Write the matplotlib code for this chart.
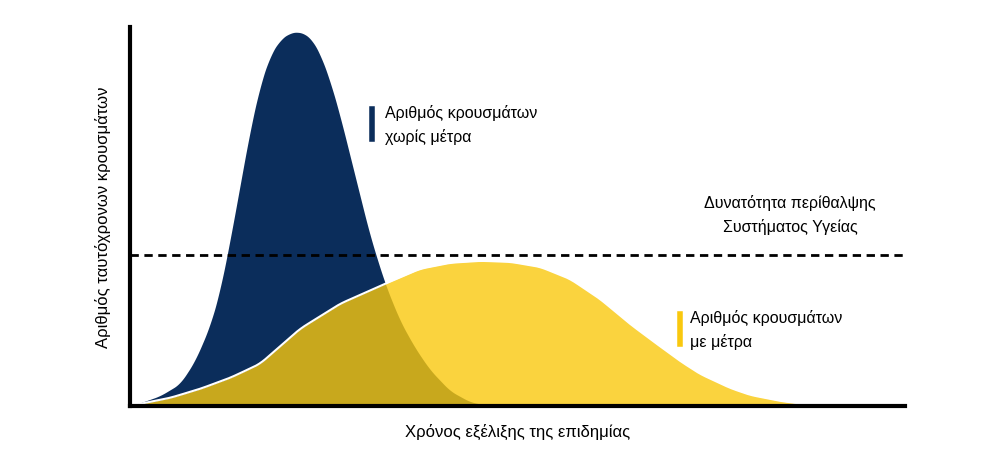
import numpy as np
import matplotlib
matplotlib.use("Agg")
import matplotlib.pyplot as plt

plt.rcParams['font.family'] = ['Liberation Sans', 'DejaVu Sans']

# curve without measures (navy)
nav_x = [0, 10, 30, 50, 65, 80, 90, 100, 110, 120, 130, 140, 150, 160, 168, 175, 182, 190, 200, 210, 225, 240, 255, 270, 285, 300, 320, 340, 360]
nav_y = [0, 3, 10, 22, 45, 80, 115, 165, 220, 275, 320, 350, 366, 373, 374, 372, 366, 352, 325, 290, 230, 170, 122, 85, 58, 36, 15, 4, 0]
# curve with measures (yellow)
yel_x = [0, 10, 40, 70, 100, 130, 170, 210, 255, 290, 320, 350, 380, 410, 440, 470, 500, 520, 550, 570, 600, 620, 650, 680, 700]
yel_y = [0, 2, 8, 17, 28, 42, 77, 102, 122, 137, 143, 145, 144, 139, 127, 107, 82, 67, 45, 32, 18, 11, 5, 1, 0]
capacity = 151

fig = plt.figure(figsize=(10, 4.77), dpi=100)
ax = fig.add_axes([0.13, 0.147, 0.775, 0.795])
xs = np.linspace(0, 775, 1500)
ny = np.interp(xs, nav_x, nav_y, right=0)
yy = np.interp(xs, yel_x, yel_y, right=0)
k = np.ones(25) / 25
ny = np.convolve(ny, k, mode='same')
yy = np.convolve(yy, k, mode='same')
ax.fill_between(xs, 0, ny, color='#0b2d5b', lw=0)
ax.fill_between(xs, 0, yy, color='#f9c80e', alpha=0.8, lw=0)
ax.plot(xs, yy, color='white', lw=1.5)
ax.axhline(capacity, color='black', ls=(0, (3, 2)), lw=2)
ax.set_xlim(0, 775)
ax.set_ylim(0, 379)
ax.set_xticks([]); ax.set_yticks([])
for s in ['top', 'right']:
    ax.spines[s].set_visible(False)
for s in ['left', 'bottom']:
    ax.spines[s].set_linewidth(3)
ax.set_xlabel('Χρόνος εξέλιξης της επιδημίας', fontsize=12, labelpad=12)
ax.set_ylabel('Αριθμός ταυτόχρονων κρουσμάτων', fontsize=12, labelpad=14)

ax.plot([242, 242], [267, 297], color='#0b2d5b', lw=4)
ax.text(255, 282, 'Αριθμός κρουσμάτων\nχωρίς μέτρα', fontsize=11.5, va='center', ha='left', linespacing=1.6)
ax.text(660, 192, 'Δυνατότητα περίθαλψης\nΣυστήματος Υγείας', fontsize=11.5, va='center', ha='center', linespacing=1.6)
ax.plot([550, 550], [62, 92], color='#f9c80e', lw=4)
ax.text(560, 77, 'Αριθμός κρουσμάτων\nμε μέτρα', fontsize=11.5, va='center', ha='left', linespacing=1.6)
fig.savefig('out.png', dpi=100)
